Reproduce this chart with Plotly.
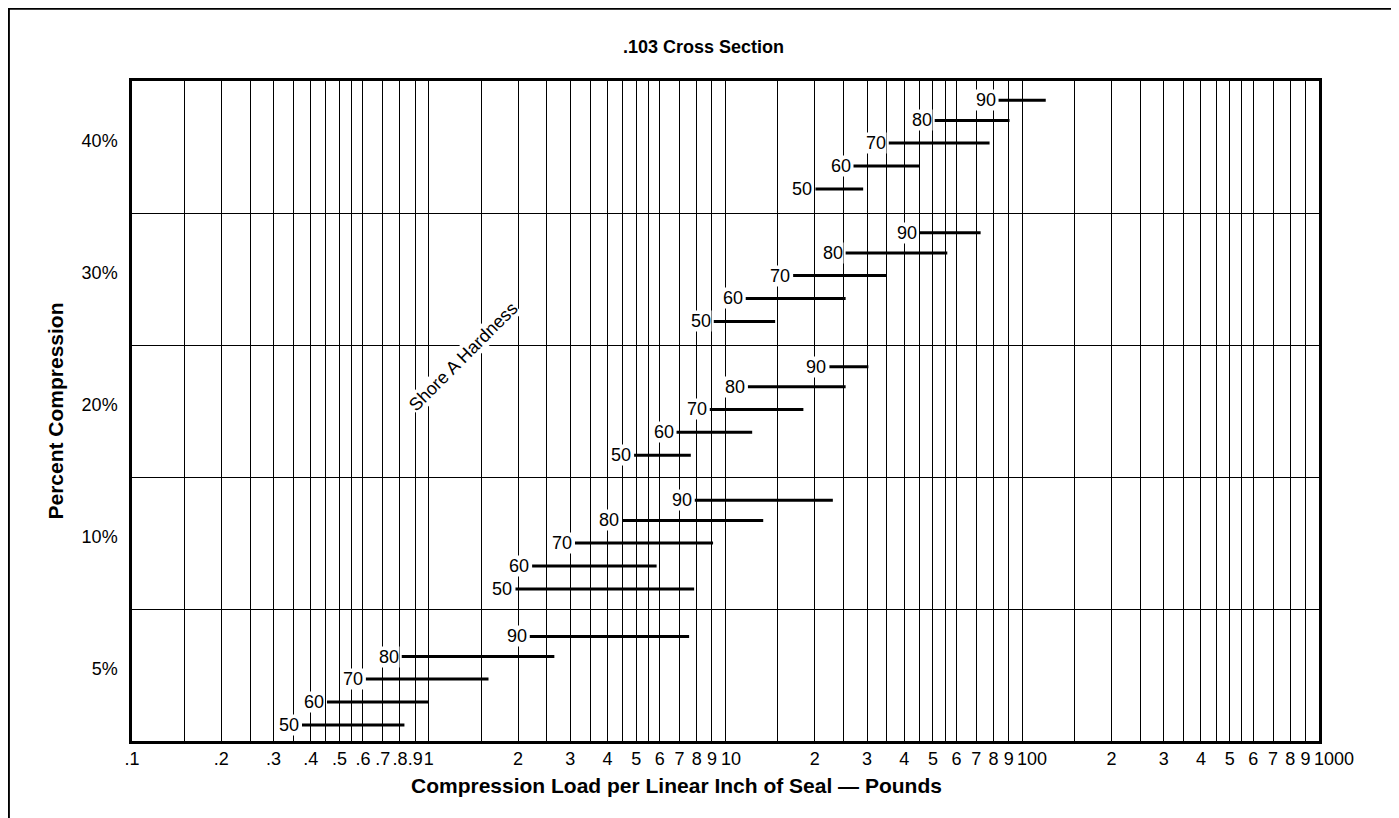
import math
import plotly.graph_objects as go

# ---------------- data ----------------
compression_levels = ["5%", "10%", "20%", "30%", "40%"]
hardness = [50, 60, 70, 80, 90]

# compression load per linear inch (pounds): start / end of each hardness range
load_min_5 = [0.374, 0.454, 0.614, 0.811, 2.19]
load_max_5 = [0.828, 1.0, 1.59, 2.65, 7.54]
load_min_10 = [1.96, 2.23, 3.11, 4.49, 7.88]
load_max_10 = [7.84, 5.86, 9.08, 13.4, 23.0]
load_min_20 = [4.92, 6.84, 8.85, 11.9, 22.4]
load_max_20 = [7.64, 12.3, 18.3, 25.4, 30.3]
load_min_30 = [9.13, 11.7, 16.9, 25.4, 45.2]
load_max_30 = [14.7, 25.4, 35.0, 55.9, 72.4]
load_min_40 = [20.1, 27.0, 35.5, 50.7, 83.2]
load_max_40 = [29.1, 45.2, 77.6, 90.6, 120.0]

load_min = [load_min_5, load_min_10, load_min_20, load_min_30, load_min_40]
load_max = [load_max_5, load_max_10, load_max_20, load_max_30, load_max_40]

x_tickvals = [0.1, 0.2, 0.3, 0.4, 0.5, 0.6, 0.7, 0.8, 0.9,
              1, 2, 3, 4, 5, 6, 7, 8, 9,
              20, 30, 40, 50, 60, 70, 80, 90,
              200, 300, 400, 500, 600, 700, 800, 900]
x_ticktext = [".1", ".2", ".3", ".4", ".5", ".6", ".7", ".8", ".9",
              "1", "2", "3", "4", "5", "6", "7", "8", "9",
              "2", "3", "4", "5", "6", "7", "8", "9",
              "2", "3", "4", "5", "6", "7", "8", "9"]
# decade labels whose leading "1" sits on the grid line
decade_vals = [10, 100, 1000]
decade_text = ["10", "100", "1000"]
x_extra_grid = [10, 100,
                0.15, 0.25, 0.35, 0.45, 0.55,
                1.5, 2.5, 3.5, 4.5, 5.5,
                15, 25, 35, 45, 55,
                150, 250, 350, 450, 550]

# ---------------- layout constants ----------------
W, H = 1391, 810
ML, MR, MT, MB = 123.7, 79.5, 72.7, 77.3
PLOT_W = W - ML - MR
PLOT_H = H - MT - MB
BAND_PX = PLOT_H / 5.0
# vertical slot of each hardness row inside a band (px from band top)
slot_px = [110.9, 87.9, 65.0, 42.4, 22.3]
# small per-band vertical nudge (px, positive = down)
band_nudge_px = [5.1, 1.0, -0.6, -2.5, -3.0]

FONT = "Liberation Sans, Arial, Helvetica, sans-serif"

fig = go.Figure()

xs, ys = [], []
annotations = []
for b, level in enumerate(compression_levels):
    for h, hard in enumerate(hardness):
        y = (b + 1) - (slot_px[h] + band_nudge_px[b]) / BAND_PX
        x0, x1 = load_min[b][h], load_max[b][h]
        xs += [x0, x1, None]
        ys += [y, y, None]
        annotations.append(dict(
            x=math.log10(x0), y=y, xref="x", yref="y", text=str(hard),
            showarrow=False, xanchor="right", yanchor="middle", xshift=-2,
            bgcolor="white", borderpad=0,
            font=dict(family=FONT, size=18, color="black")))

fig.add_trace(go.Scatter(x=xs, y=ys, mode="lines",
                         line=dict(color="black", width=3),
                         hoverinfo="skip", showlegend=False))

annotations.append(dict(
    x=math.log10(1.305), y=2.907, xref="x", yref="y", text="Shore A Hardness",
    showarrow=False, textangle=-45, bgcolor="white", borderpad=0,
    font=dict(family=FONT, size=18, color="black")))

for v, t in zip(decade_vals, decade_text):
    annotations.append(dict(
        x=math.log10(v), y=0, xref="x", yref="paper", text=t,
        showarrow=False, xanchor="left", yanchor="middle",
        xshift=-6, yshift=-18, borderpad=0,
        font=dict(family=FONT, size=18, color="black")))

annotations.append(dict(
    x=(669 - ML) / PLOT_W, y=(H - MB - 777) / PLOT_H, xref="paper", yref="paper",
    text="<b>Compression Load per Linear Inch of Seal — Pounds</b>",
    showarrow=False, xanchor="center", yanchor="middle",
    font=dict(family=FONT, size=21, color="black")))

fig.update_layout(
    width=W, height=H, autosize=False,
    margin=dict(l=ML, r=MR, t=MT, b=MB, pad=0),
    paper_bgcolor="white", plot_bgcolor="white",
    font=dict(family=FONT, size=18, color="black"),
    title=dict(text="<b>.103 Cross Section</b>", x=0.5, xref="container",
               y=1 - 39 / H, yref="container", yanchor="middle",
               font=dict(family=FONT, size=18, color="black")),
    annotations=annotations,
    showlegend=False,
)

fig.update_xaxes(
    type="log", range=[-1, 3],
    tickmode="array", tickvals=x_tickvals, ticktext=x_ticktext, tickangle=0,
    ticks="", ticklabelstandoff=0,
    showgrid=True, gridcolor="black", gridwidth=1,
    minor=dict(tickmode="array", tickvals=x_extra_grid, showgrid=True,
               gridcolor="black", gridwidth=1, ticks=""),
    showline=True, linecolor="black", linewidth=2.5, mirror=True,
    zeroline=False,
    tickfont=dict(family=FONT, size=18, color="black"),
)

fig.update_yaxes(
    range=[0, 5],
    tickmode="array", tickvals=[b + 0.545 for b in range(5)],
    ticktext=compression_levels,
    ticks="", ticklabelstandoff=8,
    showgrid=False,
    minor=dict(tickmode="array", tickvals=[1, 2, 3, 4], showgrid=True,
               gridcolor="black", gridwidth=1, ticks=""),
    showline=True, linecolor="black", linewidth=2.5, mirror=True,
    zeroline=False,
    tickfont=dict(family=FONT, size=18, color="black"),
    title=dict(text="<b>Percent Compression</b>",
               font=dict(family=FONT, size=21, color="black"), standoff=13),
)

# outer frame around the whole figure (bottom edge runs past the page)
fig.add_shape(type="rect", xref="paper", yref="paper",
              x0=(0.5 - ML) / PLOT_W, x1=(1387 - ML) / PLOT_W,
              y0=(H - MB - 840) / PLOT_H, y1=(H - MB - 0.5) / PLOT_H,
              line=dict(color="black", width=2), fillcolor="rgba(0,0,0,0)",
              layer="below")

fig.write_html("out.html")
